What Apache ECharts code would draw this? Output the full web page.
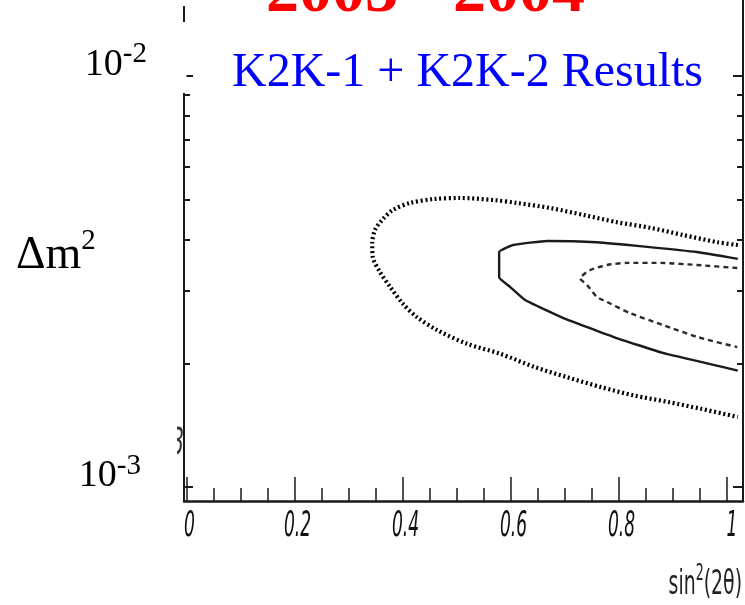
<!DOCTYPE html>
<html>
<head>
<meta charset="utf-8">
<script src="https://cdn.jsdelivr.net/npm/echarts@6/dist/echarts.min.js"></script>
<style>
  html, body { margin: 0; padding: 0; background: #fff; }
  #chart { width: 745px; height: 605px; }
</style>
</head>
<body>
<div id="chart"></div>
<script>
// sin^2(2θ) axis ticks
const sin2MajorTicks = [0, 0.2, 0.4, 0.6, 0.8, 1];
const sin2MinorTicks = [0.05, 0.1, 0.15, 0.25, 0.3, 0.35, 0.45, 0.5, 0.55,
                        0.65, 0.7, 0.75, 0.85, 0.9, 0.95];
const sin2TickLabels = ['0', '0.2', '0.4', '0.6', '0.8', '1'];

// Δm² axis ticks (eV²), drawn on a log10 scale
const dm2MajorTicks = [0.001, 0.01];
const dm2MinorTicks = [0.002, 0.003, 0.004, 0.005, 0.006, 0.007, 0.008, 0.009];

// Outer allowed region (dotted contour)
const outerSin2 = [1.020, 0.983, 0.920, 0.859, 0.796, 0.735, 0.674, 0.611, 0.569, 0.506,
                   0.457, 0.413, 0.381, 0.361, 0.348, 0.343, 0.344, 0.357, 0.376, 0.400,
                   0.426, 0.463, 0.519, 0.580, 0.643, 0.704, 0.767, 0.828, 0.891, 0.952, 1.020];
const outerDm2  = [3.88e-3, 3.94e-3, 4.10e-3, 4.27e-3, 4.41e-3, 4.59e-3, 4.77e-3, 4.91e-3, 4.99e-3, 5.05e-3,
                   5.02e-3, 4.91e-3, 4.72e-3, 4.46e-3, 4.22e-3, 3.92e-3, 3.63e-3, 3.34e-3, 3.07e-3, 2.79e-3,
                   2.59e-3, 2.41e-3, 2.23e-3, 2.11e-3, 1.96e-3, 1.85e-3, 1.75e-3, 1.67e-3, 1.61e-3, 1.55e-3, 1.48e-3];

// Middle allowed region (solid contour)
const solidSin2 = [1.020, 0.944, 0.852, 0.759, 0.667, 0.604, 0.578, 0.578, 0.598, 0.626,
                   0.696, 0.789, 0.881, 0.963, 1.020];
const solidDm2  = [3.59e-3, 3.73e-3, 3.84e-3, 3.94e-3, 3.97e-3, 3.88e-3, 3.73e-3, 3.24e-3, 3.07e-3, 2.85e-3,
                   2.58e-3, 2.32e-3, 2.12e-3, 2.00e-3, 1.92e-3];

// Inner allowed region (dashed contour)
const dashedSin2 = [1.019, 0.944, 0.876, 0.815, 0.778, 0.746, 0.728, 0.741, 0.759, 0.778,
                    0.820, 0.881, 0.944, 1.019];
const dashedDm2  = [3.41e-3, 3.47e-3, 3.51e-3, 3.51e-3, 3.47e-3, 3.37e-3, 3.22e-3, 3.10e-3, 2.90e-3, 2.82e-3,
                    2.65e-3, 2.48e-3, 2.32e-3, 2.19e-3];

const log10 = v => Math.log10(v);
const toPoints = (xs, ys) => xs.map((x, i) => [x, log10(ys[i])]);

const X_MIN = -0.0056, X_MAX = 1.0296;
const Y_MIN = -3.034, Y_MAX = -1.815;

const AXIS_COLOR = '#1a1a1a';
const ROOT_FONT = '"Liberation Sans Narrow", "DejaVu Sans Condensed", "Liberation Sans", sans-serif';
const SERIF = '"Liberation Serif", "DejaVu Serif", serif';

function xAxisBase(extra) {
  return Object.assign({
    type: 'value', min: X_MIN, max: X_MAX, position: 'bottom',
    splitLine: { show: false },
    axisLine: { show: false, onZero: false },
    axisLabel: { show: false },
    axisTick: { show: false }
  }, extra);
}
function yAxisBase(extra) {
  return Object.assign({
    type: 'value', min: Y_MIN, max: Y_MAX,
    splitLine: { show: false },
    axisLine: { show: false, onZero: false },
    axisLabel: { show: false },
    axisTick: { show: false }
  }, extra);
}

const chart = echarts.init(document.getElementById('chart'), null, { renderer: 'canvas' });

const option = {
  backgroundColor: '#ffffff',
  animation: false,
  grid: { left: 184, right: 2, top: 0, bottom: 104, containLabel: false },
  xAxis: [
    xAxisBase({
      axisLine: { show: true, onZero: false, lineStyle: { color: AXIS_COLOR, width: 2.5 } },
      axisTick: { show: true, inside: true, length: 24, customValues: sin2MajorTicks,
                  lineStyle: { color: AXIS_COLOR, width: 1.5 } }
    }),
    xAxisBase({
      axisTick: { show: true, inside: true, length: 13, customValues: sin2MinorTicks,
                  lineStyle: { color: AXIS_COLOR, width: 1.5 } }
    })
  ],
  yAxis: [
    yAxisBase({
      position: 'left',
      axisLine: { show: true, onZero: false, lineStyle: { color: AXIS_COLOR, width: 2 } },
      axisTick: { show: true, inside: true, length: 9, customValues: dm2MajorTicks.map(log10),
                  lineStyle: { color: AXIS_COLOR, width: 2 } },
      axisLabel: {
        show: true, customValues: dm2MajorTicks.map(log10), margin: 37,
        verticalAlign: 'bottom', align: 'right',
        formatter: v => {
          const e = Math.round(v);
          return '{b|10}{' + (e === -3 ? 's3' : 's') + '|' + e + '}';
        },
        rich: {
          b:  { fontFamily: SERIF, fontSize: 38, color: '#000', lineHeight: 23 },
          s:  { fontFamily: SERIF, fontSize: 29, color: '#000', lineHeight: 5, padding: [0, 0, 20, 0] },
          s3: { fontFamily: SERIF, fontSize: 29, color: '#000', lineHeight: 5, padding: [0, 6, 18, 0] }
        }
      }
    }),
    yAxisBase({
      position: 'left',
      axisTick: { show: true, inside: true, length: 6, customValues: dm2MinorTicks.map(log10),
                  lineStyle: { color: AXIS_COLOR, width: 2 } }
    }),
    yAxisBase({
      position: 'right',
      axisLine: { show: true, onZero: false, lineStyle: { color: AXIS_COLOR, width: 2 } },
      axisTick: { show: true, inside: true, length: 10, customValues: dm2MajorTicks.map(log10),
                  lineStyle: { color: AXIS_COLOR, width: 2 } }
    }),
    yAxisBase({
      position: 'right',
      axisTick: { show: true, inside: true, length: 6, customValues: dm2MinorTicks.map(log10),
                  lineStyle: { color: AXIS_COLOR, width: 2 } }
    })
  ],
  series: [
    {
      name: 'outer', type: 'line', xAxisIndex: 0, yAxisIndex: 0,
      data: toPoints(outerSin2, outerDm2),
      showSymbol: false, smooth: 0.3,
      lineStyle: { color: '#000', width: 4.2, type: [2, 2.7], cap: 'butt' }
    },
    {
      name: 'solid', type: 'line', xAxisIndex: 0, yAxisIndex: 0,
      data: toPoints(solidSin2, solidDm2),
      showSymbol: false, smooth: 0.12,
      lineStyle: { color: '#1a1a1a', width: 2.4 }
    },
    {
      name: 'dashed', type: 'line', xAxisIndex: 0, yAxisIndex: 0,
      data: toPoints(dashedSin2, dashedDm2),
      showSymbol: false, smooth: 0.2,
      lineStyle: { color: '#2a2a2a', width: 2.4, type: [5, 4] }
    },
    {
      // tall condensed tick labels under the sin²(2θ) axis
      name: 'sin2 labels', type: 'custom', xAxisIndex: 0, yAxisIndex: 0,
      clip: false, silent: true,
      data: sin2MajorTicks.map(v => [v, Y_MIN]),
      renderItem: (params, api) => {
        const p = api.coord([api.value(0), api.value(1)]);
        const label = sin2TickLabels[params.dataIndex];
        return {
          type: 'text', x: p[0] + (label === '1' ? 5 : 2.5), y: p[1] + 26, scaleY: 1.85,
          style: { text: label, font: 'italic 19px ' + ROOT_FONT, fill: '#111',
                   align: 'center', verticalAlign: 'middle' }
        };
      }
    }
  ],
  graphic: [
    // white boxes behind the headings, hiding part of the frame
    { type: 'rect', z: 100, shape: { x: 176, y: 22, width: 10.5, height: 71 }, style: { fill: '#fff' } },
    { type: 'rect', z: 100, shape: { x: 176, y: 0, width: 10.5, height: 6 }, style: { fill: '#fff' } },
    // stray digit at the left edge of the frame
    { type: 'text', z: 101, x: 184, y: 444, scaleY: 1.7,
      style: { text: '3', font: 'italic 22px ' + ROOT_FONT, fill: '#333', align: 'right', verticalAlign: 'middle' } },
    { type: 'rect', z: 102, shape: { x: 160, y: 420, width: 17, height: 50 }, style: { fill: '#fff' } },
    // axis title
    { type: 'text', z: 110, x: 742, y: 585, scaleY: 1.6,
      style: {
        text: '{t|sin}{s|2}{t|(2θ)}', align: 'right', verticalAlign: 'middle',
        rich: {
          t: { fontFamily: ROOT_FONT, fontSize: 21, fill: '#222', lineHeight: 21 },
          s: { fontFamily: ROOT_FONT, fontSize: 14, fill: '#222', lineHeight: 6, padding: [0, 0, 13, 0] }
        }
      } },
    // headings
    { type: 'text', z: 110, x: 266, y: -6,
      style: { text: '2003 - 2004', font: 'bold 66px ' + SERIF, fill: '#ff0000', verticalAlign: 'middle' } },
    { type: 'text', z: 110, x: 232, y: 73,
      style: { text: 'K2K-1 + K2K-2 Results', font: '48px ' + SERIF, fill: '#0000ff', verticalAlign: 'middle' } },
    { type: 'text', z: 110, x: 16, y: 256,
      style: {
        text: '{a|Δm}{s|2}', verticalAlign: 'middle',
        rich: {
          a: { fontFamily: SERIF, fontSize: 46, fill: '#000', lineHeight: 46 },
          s: { fontFamily: SERIF, fontSize: 29, fill: '#000', lineHeight: 17, padding: [0, 0, 29, 0] }
        }
      } }
  ]
};

chart.setOption(option);
</script>
</body>
</html>
